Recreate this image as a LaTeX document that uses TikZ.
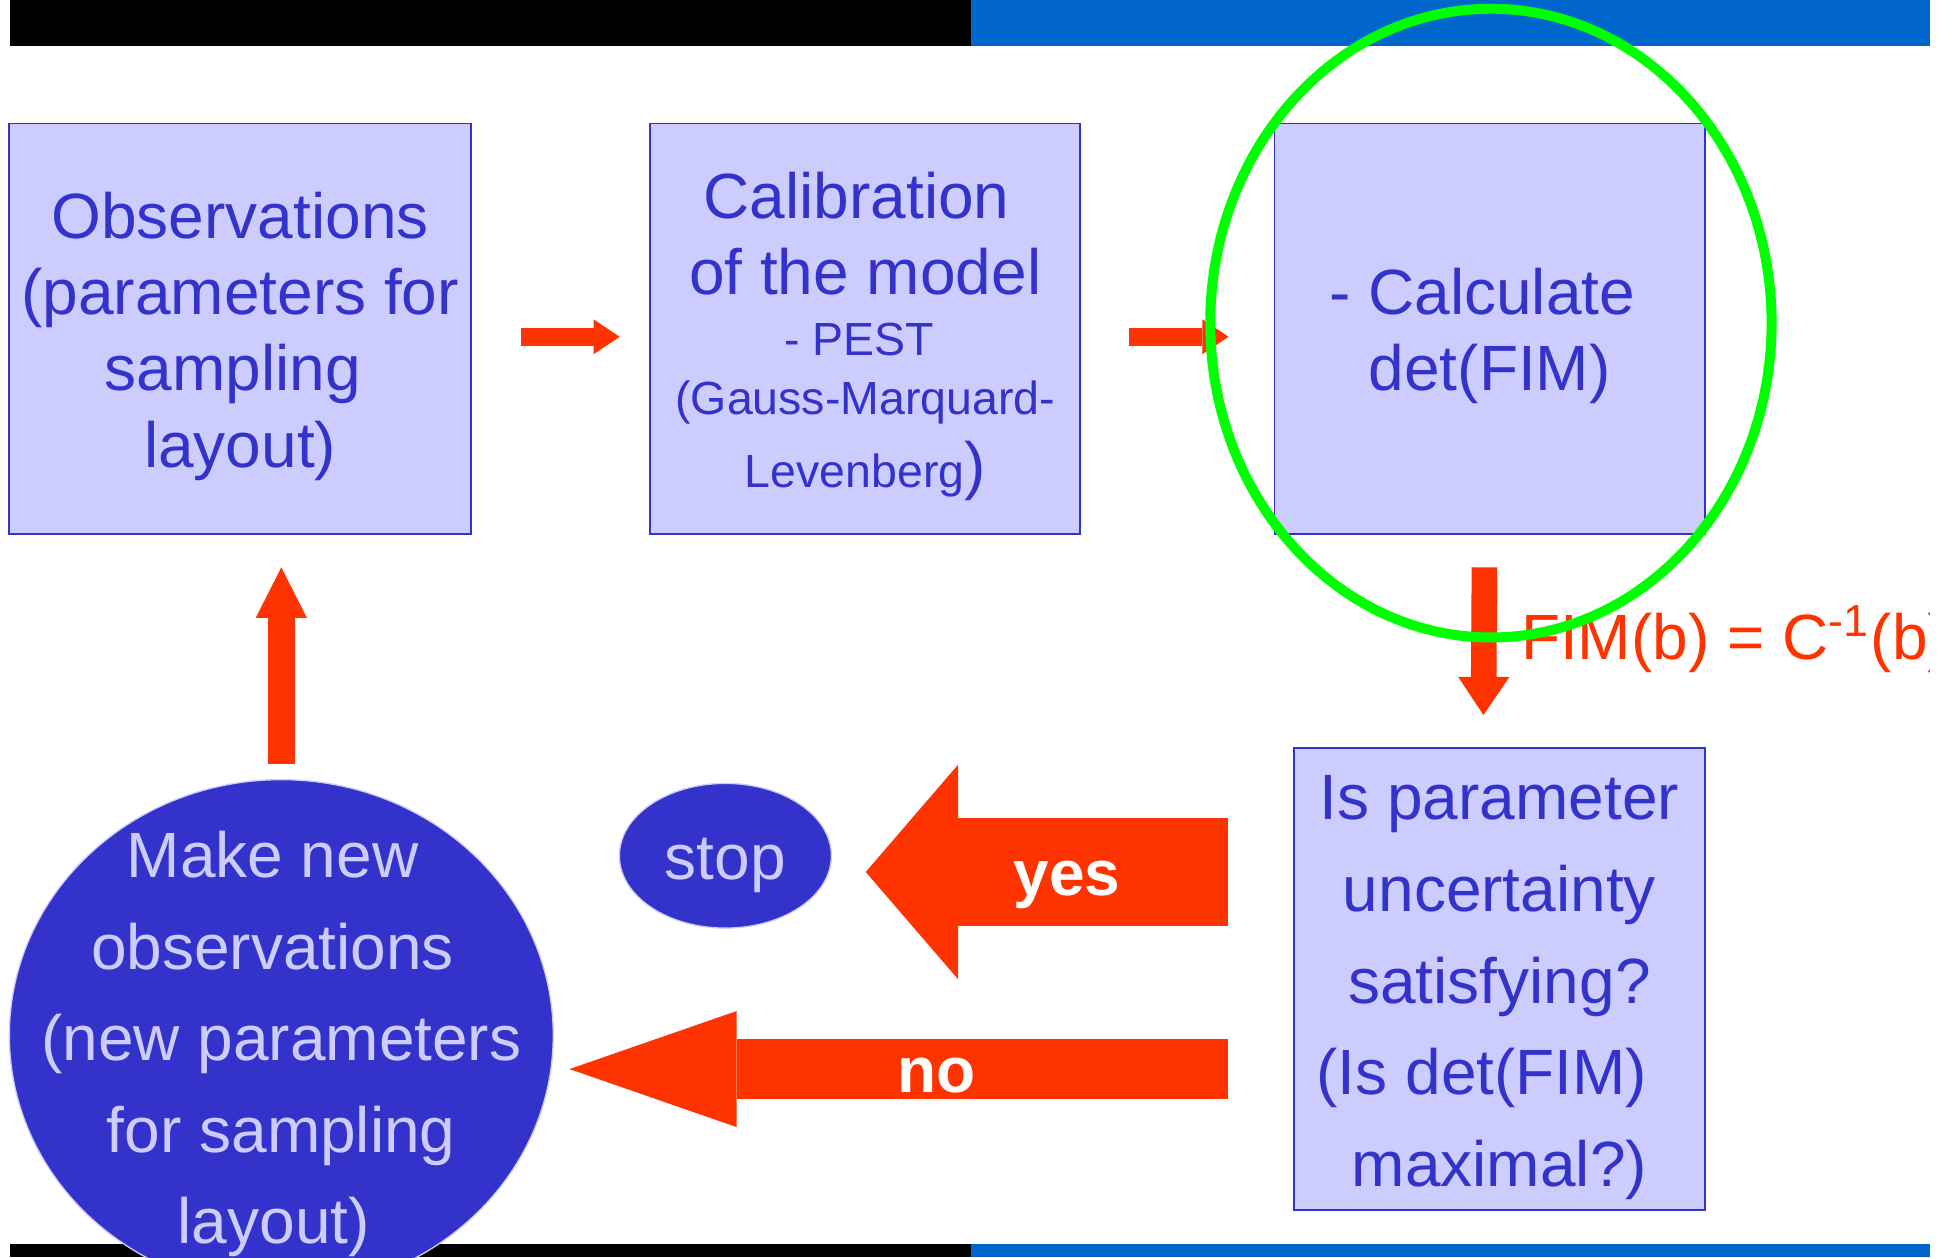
\documentclass[tikz,border=0pt]{standalone}
\usepackage{fontspec}
\setmainfont{Liberation Sans}
\usetikzlibrary{shapes,arrows.meta,positioning}

\definecolor{boxfill}{HTML}{CCCCFF}
\definecolor{boxline}{HTML}{3333CC}
\definecolor{flowred}{HTML}{FF3300}
\definecolor{barblue}{HTML}{0066CC}
\definecolor{ringgreen}{HTML}{00FF00}

\newcommand{\padtop}{\rule{0pt}{4.9mm}}
\newcommand{\bigtext}{\fontsize{14.6pt}{17.4pt}\selectfont}
\newcommand{\widetext}{\fontsize{14.6pt}{20.9pt}\selectfont}
\newcommand{\pesttext}{\fontsize{10.6pt}{13.5pt}\selectfont}

\begin{document}
\begin{tikzpicture}[x=1mm,y=-1mm]
		\tikzstyle{box} = [draw=boxline,fill=boxfill,line width=0.45pt,text=boxline,align=center,inner sep=0pt,font=\bigtext]
		\tikzstyle{roundbox} = [ellipse,draw=boxfill,fill=boxline,line width=0.3pt,inner sep=0pt]
		\tikzstyle{flowlabel} = [text=white,font=\bfseries\bigtext,text height=4.9mm,text depth=1.1mm,inner sep=0pt]
		\tikzstyle{smallarrow} = [draw=flowred,line width=1.4mm,-{Triangle[length=2.1mm,width=2.8mm,line width=0pt]}]
		\tikzstyle{uparrow} = [draw=flowred,line width=2.15mm,-{Triangle[length=4.05mm,width=4.1mm,line width=0pt]}]
		\tikzstyle{downarrow} = [draw=flowred,line width=2.05mm,-{Triangle[length=3.05mm,width=4.1mm,line width=0pt]}]
		\tikzstyle{yesarrow} = [draw=flowred,line width=8.6mm,-{Triangle[length=7.4mm,width=17.2mm,line width=0pt]}]
		\tikzstyle{noarrow} = [draw=flowred,line width=4.8mm,-{Triangle[length=13.4mm,width=9.3mm,line width=0pt]}]

		\useasboundingbox (0,0) rectangle (156.8,100.8);
		\clip (0,0) rectangle (156.8,100.8);

		% Bars at top and bottom
		\fill (0.8,0) rectangle (77.8,3.7);
		\fill[barblue] (77.8,0) rectangle (154.7,3.7);
		\fill (0.8,99.7) rectangle (77.8,100.8);
		\fill[barblue] (77.8,99.7) rectangle (154.7,100.8);

		% Nodes
		\node [box, minimum width=37mm, minimum height=32.9mm] (obs) at (19.25,26.35) {\padtop Observations\\(parameters for\\sampling\kern1.2mm\\layout)};
		\node [box, minimum width=34.5mm, minimum height=32.9mm, right=14.2mm of obs] (calib) {\padtop Calibration\kern1.4mm\\of the model\\[-1.23mm]
			{\pesttext - PEST\kern1mm}\\[-1.39mm]
			{\pesttext (Gauss-Marquard-}\\[-0.29mm]
			{\pesttext Levenberg})};
		\node [box, minimum width=34.5mm, minimum height=32.9mm, right=15.4mm of calib] (calc) {\padtop - Calculate\kern1.2mm\\det(FIM)};
		\node [box, font=\widetext, minimum width=33mm, minimum height=37mm] (check) at (120.2,78.5) {\padtop Is parameter\\uncertainty\\satisfying?\\(Is det(FIM)\kern2.8mm\\maximal?)};
		\node [roundbox, minimum width=17mm, minimum height=11.6mm, text=boxfill, font=\bigtext, text height=4.9mm, text depth=1.1mm] (stop) at (58.15,68.6) {stop};
		\node [roundbox, minimum width=43.6mm, minimum height=41mm] (newobs) at (22.55,83.0) {};
		\node [text=boxfill, align=center, font=\widetext, inner sep=0pt] (newobstext) at ([yshift=-0.7mm]newobs.center) {Make new\kern1.4mm\\observations\kern1.4mm\\(new parameters\\for sampling\\layout)\kern1.2mm};

		% Arrows
		\draw [smallarrow, shorten <=3.9mm, shorten >=2.35mm] ([yshift=-0.65mm]obs.east) -- ([yshift=-0.65mm]calib.west);
		\draw [smallarrow, shorten <=3.8mm, shorten >=3.6mm] ([yshift=-0.65mm]calib.east) -- ([yshift=-0.65mm]calc.west);
		\draw [downarrow, shorten <=2.6mm, shorten >=2.6mm] ([xshift=-0.4mm]calc.south) -- ([xshift=-1.3mm]check.north);
		\draw [uparrow, shorten <=1.2mm, shorten >=2.6mm] (newobs.north) -- (newobs.north |- obs.south);

		\coordinate (yesend) at ([yshift=-1.3mm]stop.east);
		\coordinate (noend) at ([yshift=-2.7mm]newobs.east);
		\draw [yesarrow, shorten <=5.2mm, shorten >=2.7mm] (check.west |- yesend) -- node [flowlabel, pos=0.49] (yeslbl) {yes} (yesend);
		\draw [noarrow, shorten <=5.2mm, shorten >=1.25mm] (check.west |- noend) -- node [flowlabel, pos=0.482] (nolbl) {no} (noend);

		% Relation next to the down arrow, cut at the slide edge
		\begin{scope}
		  \clip (0,0) rectangle (154.7,100.8);
		  \node [text=flowred, font=\bigtext, anchor=base west, inner sep=0pt] (fim) at (121.86,52.9) {FIM(b) = C\textsuperscript{-1}(b)};
		\end{scope}

		% Ring around the det(FIM) step
		\node [ellipse, draw=ringgreen, line width=0.8mm, minimum width=45mm, minimum height=50.4mm, inner sep=0pt] (focus) at ([xshift=0.1mm,yshift=0.45mm]calc.center) {};
	\end{tikzpicture}
\end{document}
